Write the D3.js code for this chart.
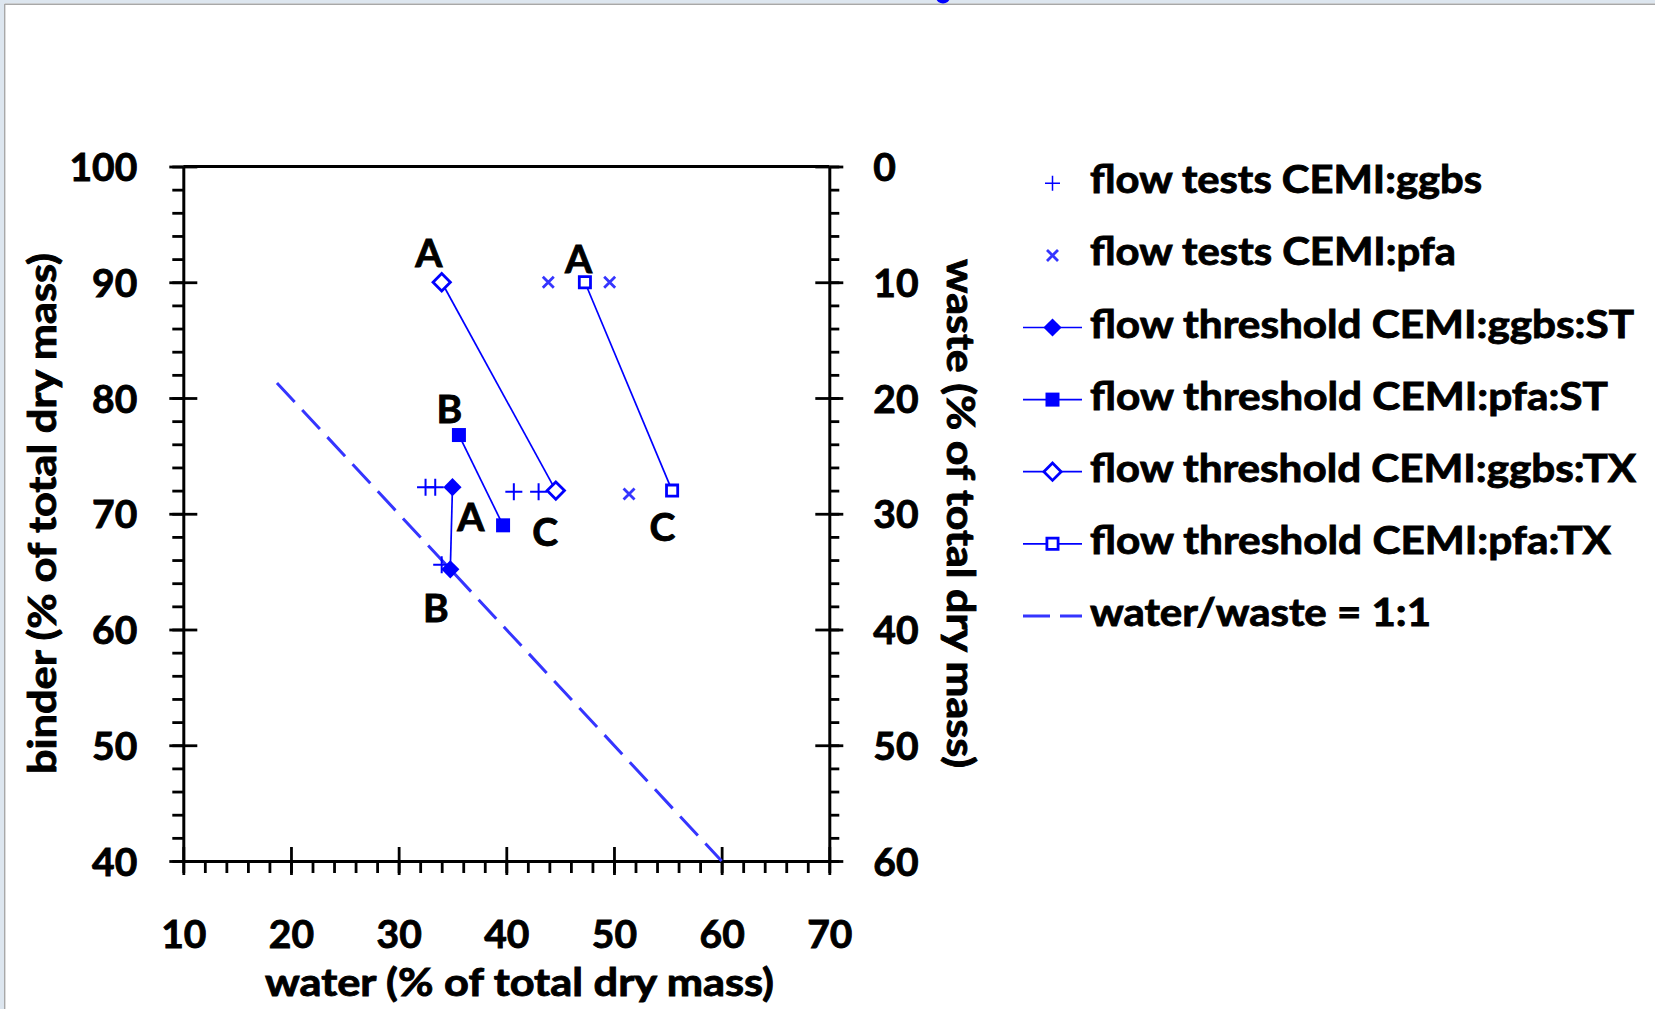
<!DOCTYPE html>
<html>
<head>
<meta charset="utf-8">
<script src="https://cdn.jsdelivr.net/npm/d3@7"></script>
<style>
html, body { margin: 0; padding: 0; background: #fff; }
svg { display: block; }
text { font-family: Lato, "Open Sans", sans-serif; font-weight: bold; fill: #000; stroke: #000; stroke-width: 0.9px; }
</style>
</head>
<body>
<div id="chart"></div>
<script>
// values (water %, binder %)
const ggbsTests = [[32.5, 72.3], [33.4, 72.3], [40.7, 71.9], [43.0, 71.9], [34.0, 65.6]];
const pfaTests = [[43.9, 90.0], [49.6, 90.0], [51.4, 71.7]];
const ggbsST = [[35.0, 72.3], [34.8, 65.2]];
const pfaST = [[35.6, 76.8], [39.7, 69.0]];
const ggbsTX = [[34.0, 90.0], [44.6, 72.0]];
const pfaTX = [[47.3, 90.0], [55.4, 72.0]];
const waterWaste = [[18.7, 81.3], [60.0, 40.0]];

const pointLabels = ["A", "A", "B", "A", "C", "C", "B"];
const pointLabelPos = [[32.8, 91.3], [46.7, 90.8], [34.7, 77.8], [36.7, 68.55], [43.6, 67.2], [54.5, 67.65], [33.45, 60.65]];

const xTicks = [10, 20, 30, 40, 50, 60, 70];
const yTicks = [40, 50, 60, 70, 80, 90, 100];
const wasteTicks = [0, 10, 20, 30, 40, 50, 60];

const legendNames = [
  "flow tests CEMI:ggbs",
  "flow tests CEMI:pfa",
  "flow threshold CEMI:ggbs:ST",
  "flow threshold CEMI:pfa:ST",
  "flow threshold CEMI:ggbs:TX",
  "flow threshold CEMI:pfa:TX",
  "water/waste = 1:1"
];
const legendWidths = [392, 366, 544, 518, 546, 521, 341];

const W = 1655, H = 1009;
const blue = "#0000ff", lightBlue = "#3535ff";

const svg = d3.select("#chart").append("svg")
  .attr("width", W).attr("height", H);

svg.append("rect").attr("width", W).attr("height", H).attr("fill", "#fff");

// window frame
svg.append("rect").attr("x", 0).attr("y", 0).attr("width", W).attr("height", 3.5).attr("fill", "#dde6ef");
svg.append("rect").attr("x", 0).attr("y", 0).attr("width", 4).attr("height", H).attr("fill", "#dde6ef");
svg.append("line").attr("x1", 4.5).attr("x2", W).attr("y1", 4.2).attr("y2", 4.2).attr("stroke", "#a8a8a8").attr("stroke-width", 1.4);
svg.append("line").attr("x1", 4.7).attr("x2", 4.7).attr("y1", 4).attr("y2", H).attr("stroke", "#a8a8a8").attr("stroke-width", 1.4);
svg.append("ellipse").attr("cx", 943).attr("cy", -1.5).attr("rx", 6.5).attr("ry", 5).attr("fill", blue);

const x = d3.scaleLinear().domain([10, 70]).range([183.3, 829.3]);
const y = d3.scaleLinear().domain([40, 100]).range([861, 166.5]);
const yWaste = d3.scaleLinear().domain([0, 60]).range([166.5, 861]);

function styleAxis(g) {
  g.selectAll("line").attr("stroke", "#000").attr("stroke-width", 2.8);
  g.selectAll("path").attr("stroke", "#000").attr("stroke-width", 3);
  g.selectAll("text").attr("font-size", 39).attr("font-family", "Lato").attr("font-weight", "bold").attr("fill", "#000");
}

// left axis
const gl = svg.append("g").attr("transform", `translate(${x(10)},0)`);
gl.append("g").call(d3.axisLeft(y).tickValues(d3.range(40, 101, 2)).tickSize(11).tickSizeOuter(0).tickFormat(""))
  .call(g => g.select(".domain").remove());
gl.append("g").call(d3.axisLeft(y).tickValues(yTicks).tickSize(-14).tickSizeOuter(0).tickFormat(""))
  .call(g => g.select(".domain").remove());
gl.append("g").call(d3.axisLeft(y).tickValues(yTicks).tickSize(14).tickSizeOuter(0).tickPadding(32));
gl.selectAll("text").attr("dy", "0.36em");
styleAxis(gl);

// right axis (waste, reversed)
const gr = svg.append("g").attr("transform", `translate(${x(70)},0)`);
gr.append("g").call(d3.axisRight(yWaste).tickValues(d3.range(0, 61, 2)).tickSize(10).tickSizeOuter(0).tickFormat(""))
  .call(g => g.select(".domain").remove());
gr.append("g").call(d3.axisRight(yWaste).tickValues(wasteTicks).tickSize(-14).tickSizeOuter(0).tickFormat(""))
  .call(g => g.select(".domain").remove());
gr.append("g").call(d3.axisRight(yWaste).tickValues(wasteTicks).tickSize(14).tickSizeOuter(0).tickPadding(30));
gr.selectAll("text").attr("dy", "0.36em");
styleAxis(gr);

// bottom axis
const gb = svg.append("g").attr("transform", `translate(0,${y(40)})`);
gb.append("g").call(d3.axisBottom(x).tickValues(d3.range(10, 71, 2)).tickSize(12).tickSizeOuter(0).tickFormat(""))
  .call(g => g.select(".domain").remove());
gb.append("g").call(d3.axisBottom(x).tickValues(xTicks).tickSize(-14).tickSizeOuter(0).tickFormat(""))
  .call(g => g.select(".domain").remove());
gb.append("g").call(d3.axisBottom(x).tickValues(xTicks).tickSize(14).tickSizeOuter(0));
gb.selectAll("text").attr("y", 87).attr("dy", null);
styleAxis(gb);

// top border
svg.append("line")
  .attr("x1", x(10)).attr("x2", x(70)).attr("y1", y(100)).attr("y2", y(100))
  .attr("stroke", "#000").attr("stroke-width", 3);

// axis titles
svg.append("text")
  .attr("transform", `translate(56,774) rotate(-90)`)
  .attr("font-size", 39).attr("textLength", 521).attr("lengthAdjust", "spacingAndGlyphs")
  .text("binder (% of total dry mass)");
svg.append("text")
  .attr("transform", `translate(947,259) rotate(90)`)
  .attr("font-size", 39).attr("textLength", 509).attr("lengthAdjust", "spacingAndGlyphs")
  .text("waste (% of total dry mass)");
svg.append("text")
  .attr("x", 265).attr("y", 996)
  .attr("font-size", 39).attr("textLength", 509).attr("lengthAdjust", "spacingAndGlyphs")
  .text("water (% of total dry mass)");

// marker shapes
const plusPath = s => `M${-s},0H${s}M0,${-s}V${s}`;
const crossPath = s => `M${-s},${-s}L${s},${s}M${-s},${s}L${s},${-s}`;
const diamond = d3.symbol(d3.symbolSquare, 165)();
const square = d3.symbol(d3.symbolSquare, 196)();
const openDiamond = d3.symbol(d3.symbolSquare, 150)();
const openSquare = d3.symbol(d3.symbolSquare, 125)();

const markers = {
  plus: g => g.append("path").attr("d", plusPath(8.5)).attr("stroke", blue).attr("stroke-width", 2).attr("fill", "none"),
  cross: g => g.append("path").attr("d", crossPath(5.5)).attr("stroke", lightBlue).attr("stroke-width", 2.8).attr("fill", "none"),
  diamond: g => g.append("path").attr("d", diamond).attr("transform", "rotate(45)").attr("fill", blue),
  square: g => g.append("path").attr("d", square).attr("fill", blue),
  openDiamond: g => g.append("path").attr("d", openDiamond).attr("transform", "rotate(45)").attr("fill", "#fff").attr("stroke", blue).attr("stroke-width", 2.8),
  openSquare: g => g.append("path").attr("d", openSquare).attr("fill", "#fff").attr("stroke", blue).attr("stroke-width", 2.8)
};

const line = d3.line().x(d => x(d[0])).y(d => y(d[1]));
const plot = svg.append("g");

// water/waste = 1:1
plot.append("path").datum(waterWaste).attr("d", line)
  .attr("fill", "none").attr("stroke", lightBlue).attr("stroke-width", 3)
  .attr("stroke-dasharray", "26 11");

const series = [
  { data: ggbsTests, marker: "plus", joined: false },
  { data: pfaTests, marker: "cross", joined: false },
  { data: ggbsST, marker: "diamond", joined: true },
  { data: pfaST, marker: "square", joined: true },
  { data: ggbsTX, marker: "openDiamond", joined: true },
  { data: pfaTX, marker: "openSquare", joined: true }
];

series.forEach(s => {
  if (s.joined) {
    plot.append("path").datum(s.data).attr("d", line)
      .attr("fill", "none").attr("stroke", blue).attr("stroke-width", 1.7);
  }
});
series.forEach(s => {
  plot.selectAll(null).data(s.data).enter().append("g")
    .attr("transform", d => `translate(${x(d[0])},${y(d[1])})`)
    .each(function () { markers[s.marker](d3.select(this)); });
});

// point letters
plot.selectAll(".pl").data(pointLabels).enter().append("text")
  .attr("class", "pl")
  .attr("x", (d, i) => x(pointLabelPos[i][0]))
  .attr("y", (d, i) => y(pointLabelPos[i][1]))
  .attr("text-anchor", "middle").attr("font-size", 39)
  .text(d => d);

// legend
const legendMarkers = ["plus", "cross", "diamond", "square", "openDiamond", "openSquare", "dash"];
const leg = svg.append("g").attr("transform", "translate(1052.5,183.3)");
legendNames.forEach((name, i) => {
  const row = leg.append("g").attr("transform", `translate(0,${i * 72.1})`);
  const m = legendMarkers[i];
  if (m === "dash") {
    row.append("line").attr("x1", -29.5).attr("x2", 29.5).attr("y1", 0).attr("y2", 0)
      .attr("stroke", lightBlue).attr("stroke-width", 3).attr("stroke-dasharray", "27 10");
  } else {
    if (i >= 2) {
      row.append("line").attr("x1", -29.5).attr("x2", 29.5).attr("y1", 0).attr("y2", 0)
        .attr("stroke", blue).attr("stroke-width", 1.7);
    }
    const mg = row.append("g");
    if (m === "plus") {
      mg.append("path").attr("d", plusPath(7.5)).attr("stroke", blue).attr("stroke-width", 1.5).attr("fill", "none");
    } else {
      markers[m](mg);
    }
  }
  row.append("text").attr("x", 37.5).attr("y", 10)
    .attr("font-size", 39).attr("textLength", legendWidths[i]).attr("lengthAdjust", "spacingAndGlyphs")
    .text(name);
});
</script>
</body>
</html>
